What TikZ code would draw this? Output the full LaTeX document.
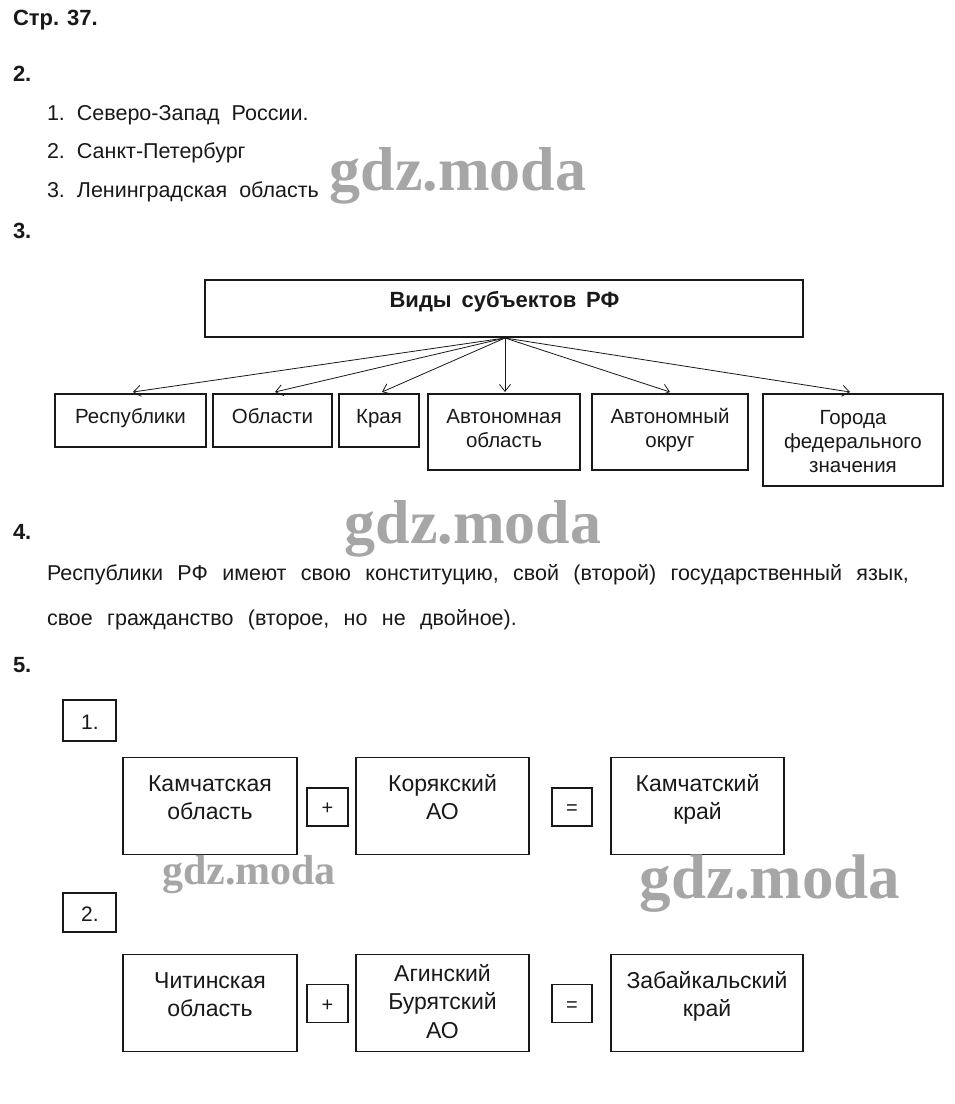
\documentclass[tikz,border=0pt]{standalone}
\usepackage{fontspec}
\setmainfont{Liberation Sans}
\newfontfamily\wmfont{Liberation Serif}
\usetikzlibrary{arrows.meta}
\frenchspacing
\newcommand\wsp[1]{\spaceskip=#1\relax}
\begin{document}
\begin{tikzpicture}[x=1pt,y=-1pt,
  every node/.style={inner sep=0pt, outer sep=0pt},
  btxt/.style={font=\fontsize{20.5}{24}\selectfont, align=center, anchor=base, text=black!90},
  ctxt/.style={font=\fontsize{23}{27.5}\selectfont, align=center, anchor=base, text=black!90},
  ltxt/.style={font=\fontsize{21.5}{25}\selectfont, anchor=base west, text=black!90},
  head/.style={font=\fontsize{22}{25}\selectfont\bfseries, anchor=base west, text=black!90},
  bx/.style={draw=black!90, line width=1.6pt, rectangle},
  arr/.style={draw=black!90, line width=0.8pt, -{Straight Barb[length=7pt, width=11pt, line width=0.8pt]}},
  wm/.style={text=gray!70, anchor=base}
]
\useasboundingbox (0,0) rectangle (954,1104);
\fill[white] (0,0) rectangle (954,1104);

% headings
\node[head] (h0) at (13,25) {\wsp{8pt}Стр. 37.};
\node[head] (h2) at (13,81) {2.};
\node[ltxt] (l1) at (47,120) {\wsp{12pt}1. Северо-Запад России.};
\node[ltxt] (l2) at (47,158) {\wsp{12pt}2. Санкт-Петербург};
\node[ltxt] (l3) at (47,197) {\wsp{12pt}3. Ленинградская область};
\node[head] (h3) at (13,238) {3.};

% section 3 diagram
\node[bx, minimum width=598, minimum height=57] (title) at (504,308.5) {};
\node[head, anchor=base] (titlet) at (504.5,307) {\wsp{10pt}Виды субъектов РФ};
\coordinate (src) at (505,338);

\node[bx, minimum width=151, minimum height=53] (resp) at (130.5,420.5) {};
\node[bx, minimum width=119, minimum height=53] (obl) at (272.5,420.5) {};
\node[bx, minimum width=80, minimum height=53] (kray) at (379,420.5) {};
\node[bx, minimum width=152, minimum height=76] (ao) at (504,432) {};
\node[bx, minimum width=156, minimum height=76] (aok) at (670,432) {};
\node[bx, minimum width=180, minimum height=92] (gfz) at (853,440) {};

\node[btxt] (respt) at (130.5,423) {Республики};
\node[btxt] (oblt) at (272.5,423) {Области};
\node[btxt] (krayt) at (379,423) {Края};
\node[btxt] (aot) at (504,447) {Автономная\\область};
\node[btxt] (aokt) at (670,447) {Автономный\\округ};
\node[btxt] (gfzt) at (853,472) {Города\\федерального\\значения};

\draw[arr] (src) -- ([xshift=2.5pt,yshift=2pt]resp.north);
\draw[arr] (src) -- ([xshift=2.5pt,yshift=2pt]obl.north);
\draw[arr] (src) -- ([xshift=3pt,yshift=2pt]kray.north);
\draw[arr] (src) -- ([xshift=1pt,yshift=2pt]ao.north);
\draw[arr] (src) -- ([yshift=2pt]aok.north);
\draw[arr] (src) -- ([xshift=-3pt,yshift=2pt]gfz.north);

% section 4
\node[head] (h4) at (13,539) {4.};
\node[ltxt] (p1) at (47,580) {\wsp{14.4pt}Республики РФ имеют свою конституцию, свой (второй) государственный язык,};
\node[ltxt] (p2) at (47,625) {\wsp{14.4pt}свое гражданство (второе, но не двойное).};
\node[head] (h5) at (13,672) {5.};

% section 5, part 1
\node[bx, minimum width=53, minimum height=41] (n1) at (89.5,720.5) {};
\node[ctxt, font=\fontsize{21}{25}\selectfont] (n1t) at (90,729) {1.};
\node[bx, minimum width=174, minimum height=97] (kam) at (210,806) {};
\node[bx, minimum width=41, minimum height=38] (plus1) at (327.5,807) {};
\node[bx, minimum width=173, minimum height=97] (kor) at (442.5,806) {};
\node[bx, minimum width=40, minimum height=38] (eq1) at (572,807) {};
\node[bx, minimum width=173, minimum height=97] (kamk) at (697.5,806) {};
\node[ctxt] (kamt) at (210,819) {Камчатская\\область};
\node[ctxt, font=\fontsize{20}{24}\selectfont] (plus1t) at (327.5,814.5) {+};
\node[ctxt] (kort) at (442.5,819) {Корякский\\АО};
\node[ctxt, font=\fontsize{20}{24}\selectfont] (eq1t) at (572,814.5) {=};
\node[ctxt] (kamkt) at (697.5,819) {Камчатский\\край};

% section 5, part 2
\node[bx, minimum width=53, minimum height=39] (n2) at (89.5,912.5) {};
\node[ctxt, font=\fontsize{21}{25}\selectfont] (n2t) at (90,921) {2.};
\node[bx, minimum width=174, minimum height=97] (chi) at (210,1003) {};
\node[bx, minimum width=41, minimum height=38] (plus2) at (327.5,1003.5) {};
\node[bx, minimum width=173, minimum height=97] (agi) at (442.5,1003) {};
\node[bx, minimum width=40, minimum height=38] (eq2) at (572,1003.5) {};
\node[bx, minimum width=192, minimum height=97] (zab) at (707,1003) {};
\node[ctxt, font=\fontsize{23}{28.5}\selectfont] (chit) at (210,1016.5) {Читинская\\область};
\node[ctxt, font=\fontsize{20}{24}\selectfont] (plus2t) at (327.5,1011) {+};
\node[ctxt, font=\fontsize{23}{28.2}\selectfont] (agit) at (442.5,1038) {Агинский\\Бурятский\\АО};
\node[ctxt, font=\fontsize{20}{24}\selectfont] (eq2t) at (572,1011) {=};
\node[ctxt, font=\fontsize{23}{28}\selectfont] (zabt) at (707,1016.5) {Забайкальский\\край};

% watermarks
\node[wm, font=\wmfont\bfseries\fontsize{62}{62}\selectfont] (wm1) at (458,190) {gdz.moda};
\node[wm, font=\wmfont\bfseries\fontsize{62}{62}\selectfont] (wm2) at (473,543) {gdz.moda};
\node[wm, font=\wmfont\bfseries\fontsize{42}{42}\selectfont] (wm3) at (249,884) {gdz.moda};
\node[wm, font=\wmfont\bfseries\fontsize{63}{63}\selectfont] (wm4) at (770,898) {gdz.moda};
\end{tikzpicture}
\end{document}
